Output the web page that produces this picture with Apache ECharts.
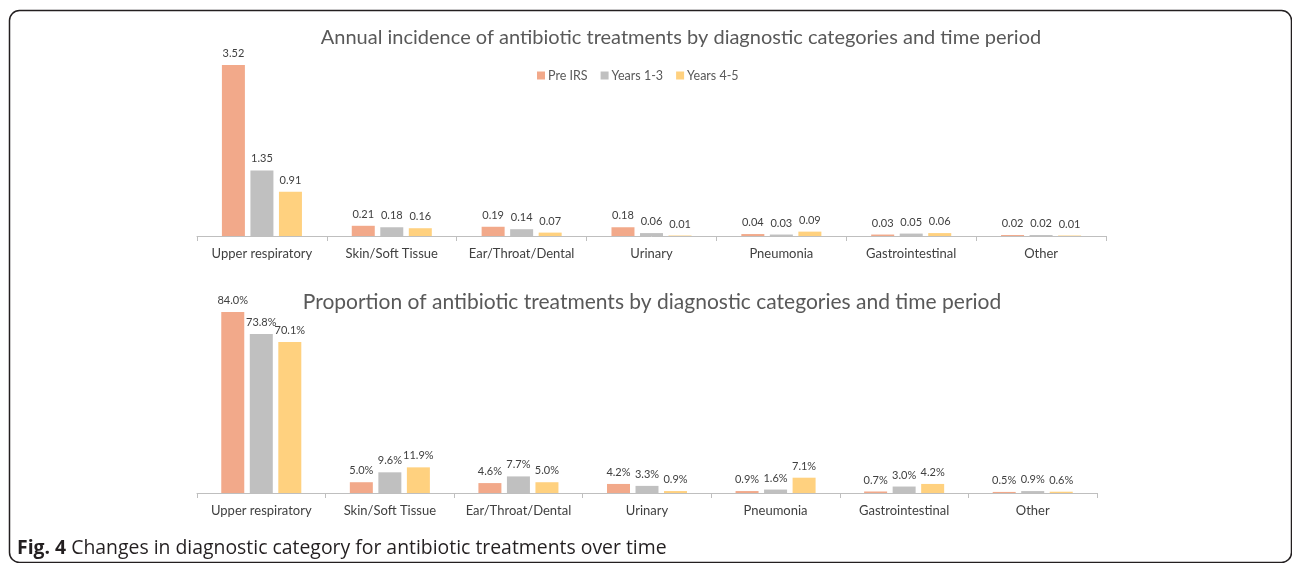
<!DOCTYPE html>
<html>
<head>
<meta charset="utf-8">
<script src="https://cdn.jsdelivr.net/npm/echarts@6/dist/echarts.min.js"></script>
<style>
html,body{margin:0;padding:0;background:#fff;}
#c{width:1292px;height:563px;}
</style>
</head>
<body>
<div id="c"></div>
<script>
const categories = ['Upper respiratory','Skin/Soft Tissue','Ear/Throat/Dental','Urinary','Pneumonia','Gastrointestinal','Other'];
const seriesNames = ['Pre IRS','Years 1-3','Years 4-5'];
const incidencePre = [3.52, 0.21, 0.19, 0.18, 0.04, 0.03, 0.02];
const incidenceY13 = [1.35, 0.18, 0.14, 0.06, 0.03, 0.05, 0.02];
const incidenceY45 = [0.91, 0.16, 0.07, 0.01, 0.09, 0.06, 0.01];
const proportionPre = [84.0, 5.0, 4.6, 4.2, 0.9, 0.7, 0.5];
const proportionY13 = [73.8, 9.6, 7.7, 3.3, 1.6, 3.0, 0.9];
const proportionY45 = [70.1, 11.9, 5.0, 0.9, 7.1, 4.2, 0.6];
const titleTop = 'Annual incidence of antibiotic treatments by diagnostic categories and time period';
const titleBottom = 'Proportion of antibiotic treatments by diagnostic categories and time period';
const captionBold = 'Fig. 4';
const captionText = ' Changes in diagnostic category for antibiotic treatments over time';

const colors = ['#F2A98A', '#C0C0C0', '#FFD17F'];
const FONT = 'Lato';

const chart = echarts.init(document.getElementById('c'), null, {renderer: 'canvas'});

function xAxisCfg(gridIndex){
  return {
    type: 'category', gridIndex, data: categories,
    axisLine: {lineStyle: {color: '#BFBFBF', width: 1}},
    axisTick: {show: true, length: 5, lineStyle: {color: '#BFBFBF'}},
    axisLabel: {color: '#404040', fontFamily: FONT, fontSize: 13, margin: 11, interval: 0}
  };
}
function yAxisCfg(gridIndex, max){
  return {type: 'value', gridIndex, min: 0, max, show: false, splitLine: {show: false}};
}
function barSeries(name, data, idx, gi, fmt){
  return {
    name, type: 'bar', xAxisIndex: gi, yAxisIndex: gi, data,
    barWidth: 23, barGap: '24%',
    itemStyle: {color: colors[idx]},
    label: {show: true, position: 'top', distance: 6, color: '#404040', fontFamily: FONT, fontSize: 11, formatter: fmt},
    emphasis: {disabled: true}
  };
}
const fmtNum = p => p.value.toFixed(2);
const fmtPct = p => p.value.toFixed(1) + '%';

chart.setOption({
  animation: false,
  color: colors,
  title: [
    {text: titleTop, left: 676, top: 23, textAlign: 'center',
     textStyle: {color: '#595959', fontFamily: FONT, fontSize: 20, fontWeight: 'normal'}},
    {text: titleBottom, left: 647, top: 287, textAlign: 'center',
     textStyle: {color: '#595959', fontFamily: FONT, fontSize: 21, fontWeight: 'normal'}},
    {text: '{b|' + captionBold + '}{n|' + captionText + '}', left: 12, top: 534,
     textStyle: {rich: {
       b: {fontFamily: 'Open Sans', fontWeight: 'bold', fontSize: 19.4, color: '#231F20'},
       n: {fontFamily: 'Open Sans', fontWeight: 'normal', fontSize: 19.4, color: '#231F20'}
     }}}
  ],
  legend: {
    data: seriesNames, left: 532, top: 64, itemWidth: 8, itemHeight: 8, itemGap: 13,
    icon: 'rect',
    textStyle: {color: '#595959', fontFamily: FONT, fontSize: 12.5, padding: [0,0,0,-2]}
  },
  grid: [
    {left: 197, right: 186, top: 41.6, bottom: 327},
    {left: 197, right: 195, top: 277.5, bottom: 70}
  ],
  xAxis: [xAxisCfg(0), xAxisCfg(1)],
  yAxis: [yAxisCfg(0, 4), yAxisCfg(1, 100)],
  graphic: [{
    type: 'rect', silent: true,
    shape: {x: 9.5, y: 10.5, width: 1282, height: 552, r: 10},
    style: {fill: 'none', stroke: '#231F20', lineWidth: 1.5}
  }],
  series: [
    barSeries(seriesNames[0], incidencePre, 0, 0, fmtNum),
    barSeries(seriesNames[1], incidenceY13, 1, 0, fmtNum),
    barSeries(seriesNames[2], incidenceY45, 2, 0, fmtNum),
    barSeries(seriesNames[0], proportionPre, 0, 1, fmtPct),
    barSeries(seriesNames[1], proportionY13, 1, 1, fmtPct),
    barSeries(seriesNames[2], proportionY45, 2, 1, fmtPct)
  ]
});
</script>
</body>
</html>
